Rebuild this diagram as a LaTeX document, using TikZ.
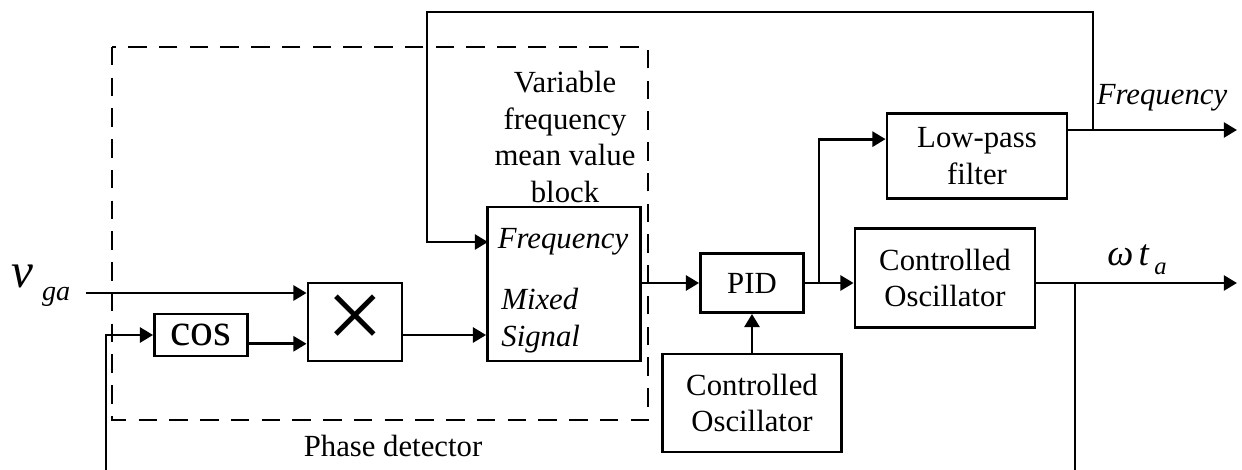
\documentclass[tikz,border=0pt]{standalone}
\usepackage{fontspec}
\setmainfont{Liberation Serif}
\usetikzlibrary{arrows.meta}

\begin{document}
\begin{tikzpicture}[x=0.02cm, y=-0.02cm, line width=1.6pt,
    txt/.style={inner sep=0pt, align=center, font=\fontsize{17.5}{21}\selectfont},
    blk/.style={txt, draw},
    arr/.style={-{Triangle[length=7.5pt,width=8.5pt]}},
    pdbox/.style={dash pattern=on 10.5pt off 7pt}]
    \useasboundingbox (0,0) rectangle (1242,470);
    % phase detector frame
    \draw[pdbox] (112,47) rectangle (648,420);
    \node[txt] (pdlabel) at (393,446) {Phase detector};
    \node[txt] (mvlabel) at (565,137) {Variable\\frequency\\mean value\\block};
    % blocks
    \node[blk, minimum width=1.86cm, minimum height=0.84cm] (cos) at (201,335) {\fontsize{26}{26}\selectfont cos};
    \node[blk, minimum width=1.88cm, minimum height=1.56cm] (mult) at (355,322) {\fontsize{58}{58}\selectfont ×};
    \node[blk, minimum width=3.06cm, minimum height=3.08cm] (mean) at (564,284) {};
    \node[txt] (mfreq) at (563,242) {\itshape Frequency};
    \node[txt, anchor=west, align=left] (msig) at (500,321) {\itshape Mixed\\\itshape Signal};
    \node[blk, minimum width=2.06cm, minimum height=1.18cm] (pid) at (752,283) {PID};
    \node[blk, minimum width=3.58cm, minimum height=1.96cm] (osc2) at (752,403) {Controlled\\Oscillator};
    \node[blk, minimum width=3.6cm, minimum height=1.7cm] (lpf) at (977,156) {Low-pass\\filter};
    \node[blk, minimum width=3.6cm, minimum height=1.98cm] (osc1) at (945,278) {Controlled\\Oscillator};
    % labels
    \node[txt, anchor=base west] (vga) at (10,287) {\fontsize{28}{28}\selectfont\itshape v\hspace{5pt}\raisebox{-7.5pt}{\fontsize{16}{16}\selectfont ga}};
    \node[txt] (flabel) at (1162,98) {\itshape Frequency};
    \node[txt, anchor=base west] (wta) at (1106,265) {\fontsize{21}{21}\selectfont\itshape ω\hspace{3pt}t\hspace{3pt}\raisebox{-5.5pt}{\fontsize{14}{14}\selectfont a}};
    % free ends and branch points
    \coordinate (vin) at (86,293);
    \coordinate (cosin) at (106,470);
    \coordinate (fjunc) at (1093,130);
    \coordinate (fout) at (1237,130);
    \coordinate (topl) at (427,12);
    \coordinate (fin) at (488,242);
    \coordinate (pidbr) at (819,283);
    \coordinate (wjunc) at (1075,283);
    \coordinate (wout) at (1237,283);
    \coordinate (wdown) at (1075,470);
    % connectors
    \draw[arr] (vin) -- (vin -| mult.west);
    \draw[arr] (cosin) |- (cos.west);
    \draw[arr] ([yshift=-5pt]cos.east) -- ([yshift=-5pt]cos.east -| mult.west);
    \draw[arr] ([yshift=-7.4pt]mult.east) -- ([yshift=-7.4pt]mult.east -| mean.west);
    \draw[arr] (mean.east |- pid.west) -- (pid.west);
    \draw[arr] (osc2.north) -- (pid.south);
    \draw[arr] (pid.east) -- (pid.east -| osc1.west);
    \draw[arr] (pidbr) |- ([yshift=9.6pt]lpf.west);
    \draw[arr] (lpf.east |- fjunc) -- (fout);
    \draw[arr] (fjunc) |- (topl) |- (fin);
    \draw[arr] (osc1.east |- wjunc) -- (wout);
    \draw (wjunc) -- (wdown);
\end{tikzpicture}
\end{document}
